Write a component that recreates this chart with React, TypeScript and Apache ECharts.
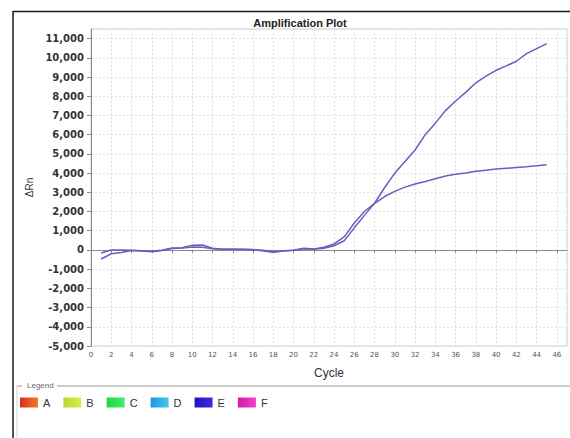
import React, { useEffect, useRef } from "react";
import * as echarts from "echarts";

// Cycle numbers and ΔRn readings for the two amplified wells (well group E)
const cycles: number[] = Array.from({ length: 45 }, (_, i) => i + 1);

const wellE1: number[] = [
  -470, -200, -130, -30, -50, -90, -30, 80, 100, 150,
  140, 60, 30, 30, 20, 10, -50, -120, -60, -20,
  60, 40, 90, 220, 480, 1150, 1800, 2430, 3250, 4000,
  4600, 5200, 6000, 6600, 7250, 7750, 8200, 8700, 9050, 9350,
  9580, 9820, 10220, 10480, 10740,
];

const wellE2: number[] = [
  -160, 0, 0, -20, -40, -70, -20, 100, 120, 250,
  260, 90, 40, 40, 30, 20, -20, -90, -40, -10,
  90, 50, 140, 310, 680, 1400, 2000, 2430, 2780, 3050,
  3270, 3430, 3560, 3710, 3850, 3940, 4010, 4090, 4150, 4210,
  4250, 4290, 4330, 4380, 4440,
];

// Legend entries (wells A–F) and their swatch colours
const legendNames: string[] = ["A", "B", "C", "D", "E", "F"];
const legendColors: [string, string][] = [
  ["#d8301c", "#f27a2a"],
  ["#b4d82a", "#d8ee5a"],
  ["#18d840", "#48ec70"],
  ["#1898e0", "#48c8f0"],
  ["#2410c8", "#3a2ae0"],
  ["#d818a8", "#f040c8"],
];

const Y_MIN = -5000;
const Y_MAX = 11500;
const X_MIN = 0;
const X_MAX = 47;

const traceColor = "#6560bf";

export default function App() {
  const ref = useRef<HTMLDivElement>(null);

  useEffect(() => {
    if (!ref.current) return;
    const chart = echarts.init(ref.current, undefined, { renderer: "svg" });

    const grad = (c: [string, string]) =>
      new echarts.graphic.LinearGradient(0, 0, 1, 0, [
        { offset: 0, color: c[0] },
        { offset: 1, color: c[1] },
      ]);

    const toPairs = (vals: number[]) => cycles.map((c, i) => [c, vals[i]]);

    const series: any[] = [];
    legendNames.forEach((name, i) => {
      if (name === "E") {
        [wellE1, wellE2].forEach((vals) => {
          series.push({
            name,
            type: "line",
            data: toPairs(vals),
            showSymbol: false,
            smooth: false,
            lineStyle: { color: traceColor, width: 1.5 },
            itemStyle: { color: traceColor },
          });
        });
      } else {
        series.push({
          name,
          type: "line",
          data: [],
          showSymbol: false,
          lineStyle: { color: legendColors[i][0] },
          itemStyle: { color: legendColors[i][0] },
        });
      }
    });

    chart.setOption({
      animation: false,
      backgroundColor: "#ffffff",
      title: {
        text: "Amplification Plot",
        left: 295,
        top: 12,
        textAlign: "center",
        textStyle: {
          fontFamily: "Liberation Sans",
          fontSize: 11,
          fontWeight: "bold",
          color: "#222",
        },
      },
      grid: {
        left: 91,
        right: 3,
        top: 29,
        bottom: 92,
        show: true,
        borderColor: "#cfcfcf",
        borderWidth: 1,
        backgroundColor: "transparent",
      },
      xAxis: {
        type: "value",
        min: X_MIN,
        max: X_MAX,
        interval: 2,
        name: "Cycle",
        nameLocation: "middle",
        nameGap: 21,
        nameTextStyle: {
          fontFamily: "Liberation Sans",
          fontSize: 12,
          color: "#333",
        },
        axisLine: { show: true, lineStyle: { color: "#8a8a8a", width: 1 } },
        axisTick: { show: true, length: 3, lineStyle: { color: "#8a8a8a" } },
        axisLabel: {
          fontFamily: "DejaVu Sans",
          fontSize: 7,
          color: "#555",
          margin: 5,
          showMaxLabel: false,
        },
        splitLine: {
          show: true,
          lineStyle: { color: "#e0e0e0", type: [2, 2], width: 1 },
        },
      },
      yAxis: {
        type: "value",
        min: Y_MIN,
        max: Y_MAX,
        interval: 1000,
        name: "ΔRn",
        nameLocation: "middle",
        nameGap: 55,
        nameRotate: 90,
        nameTextStyle: {
          fontFamily: "Liberation Sans",
          fontSize: 10,
          color: "#333",
        },
        axisLine: { show: true, lineStyle: { color: "#8a8a8a", width: 1 } },
        axisTick: { show: true, length: 4, lineStyle: { color: "#8a8a8a" } },
        axisLabel: {
          fontFamily: "DejaVu Sans",
          fontSize: 10,
          fontWeight: "bold",
          color: "#333",
          margin: 7,
          showMaxLabel: false,
          formatter: (v: number) => v.toLocaleString("en-US"),
        },
        splitLine: {
          show: true,
          lineStyle: { color: "#e0e0e0", type: [2, 2], width: 1 },
        },
      },
      legend: {
        show: true,
        left: 20,
        top: 397,
        padding: 0,
        orient: "horizontal",
        itemWidth: 18,
        itemHeight: 10,
        itemGap: 13,
        selectedMode: false,
        icon: "rect",
        textStyle: {
          fontFamily: "Liberation Sans",
          fontSize: 11,
          color: "#333",
        },
        data: legendNames.map((name, i) => ({
          name,
          icon: "rect",
          itemStyle: { color: grad(legendColors[i]), borderWidth: 0 },
        })),
      },
      graphic: [
        // outer frame
        {
          type: "line",
          shape: { x1: 13, y1: 11.5, x2: 570, y2: 11.5 },
          style: { stroke: "#1a1a1a", lineWidth: 1.5 },
        },
        {
          type: "line",
          shape: { x1: 13, y1: 11, x2: 13, y2: 438 },
          style: { stroke: "#1a1a1a", lineWidth: 1.5 },
        },
        // legend group box
        {
          type: "line",
          shape: { x1: 57, y1: 386, x2: 570, y2: 386 },
          style: { stroke: "#9a9a9a", lineWidth: 1 },
        },
        {
          type: "line",
          shape: { x1: 17, y1: 386, x2: 22, y2: 386 },
          style: { stroke: "#9a9a9a", lineWidth: 1 },
        },
        {
          type: "line",
          shape: { x1: 17, y1: 386, x2: 17, y2: 438 },
          style: { stroke: "#d4d4d4", lineWidth: 1 },
        },
        {
          type: "text",
          left: 27,
          top: 381,
          style: {
            text: "Legend",
            fontFamily: "Liberation Sans",
            fontSize: 8,
            fill: "#6a6a6a",
          },
        },
      ],
      series,
    });

    return () => chart.dispose();
  }, []);

  return (
    <div
      ref={ref}
      style={{
        position: "fixed",
        left: 0,
        top: 0,
        width: 570,
        height: 438,
        background: "#fff",
      }}
    />
  );
}
